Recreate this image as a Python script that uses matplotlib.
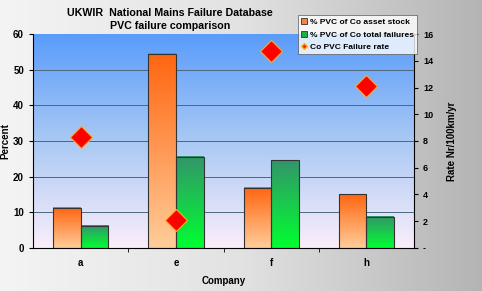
import numpy as np
import matplotlib.pyplot as plt
from matplotlib.colors import LinearSegmentedColormap
from matplotlib.lines import Line2D
from matplotlib.patches import Patch

plt.rcParams['font.family'] = ['Liberation Sans', 'DejaVu Sans']
plt.rcParams['font.weight'] = 'bold'

# Data
companies = ['a', 'e', 'f', 'h']
asset_stock = [11.3, 54.5, 16.9, 15.0]     # % PVC of Co asset stock
total_failures = [6.2, 25.6, 24.6, 8.7]    # % PVC of Co total failures
failure_rate = [8.3, 2.1, 14.7, 12.1]      # Co PVC Failure rate (right axis)

fig = plt.figure(figsize=(4.82, 2.91), dpi=100)

# figure background: grey gradient, lighter to the left
bg = fig.add_axes([0, 0, 1, 1], zorder=-10)
gx = np.linspace(0, 1, 256)
grey = LinearSegmentedColormap.from_list('grey', ['#f4f4f4', '#e2e2e2', '#b4b4b4'])
bg.imshow(gx[None, :], cmap=grey, aspect='auto', extent=[0, 1, 0, 1])
bg.axis('off')

ax = fig.add_axes([0.0685, 0.148, 0.7905, 0.735])
ax.set_xlim(-0.5, 3.5)
ax.set_ylim(0, 60)

# plot area: blue at the top fading to a pale pink
plot_cm = LinearSegmentedColormap.from_list('plot', ['#fbeefa', '#a9c9f4', '#5a9cfb'])
gy = np.linspace(0, 1, 256)[:, None]
ax.imshow(gy, cmap=plot_cm, origin='lower', aspect='auto',
          extent=[-0.5, 3.5, 0, 60], zorder=0)

for yv in range(10, 60, 10):
    ax.axhline(yv, color='#4c6682', lw=0.7, zorder=1)

orange_cm = LinearSegmentedColormap.from_list('org', ['#ffcd9a', '#ff6510'])
green_cm = LinearSegmentedColormap.from_list('grn', ['#00ff30', '#33956a'])
w = 0.29


def grad_bar(x0, h, cmap):
    ax.imshow(gy, cmap=cmap, origin='lower', aspect='auto',
              extent=[x0, x0 + w, 0, h], zorder=2)
    ax.add_patch(plt.Rectangle((x0, 0), w, h, fill=False, ec='#333333', lw=0.8, zorder=3))


for i in range(len(companies)):
    grad_bar(i - w, asset_stock[i], orange_cm)
    grad_bar(i, total_failures[i], green_cm)

ax.set_xlim(-0.5, 3.5)
ax.set_ylim(0, 60)
ax.set_xticks(range(len(companies)))
ax.set_xticklabels(companies, fontsize=7, fontweight='bold')
ax.set_xticks([0.5, 1.5, 2.5], minor=True)
ax.tick_params(axis='x', which='major', length=0, pad=7)
ax.tick_params(axis='x', which='minor', length=3)
ax.set_yticks(range(0, 61, 10))
ax.tick_params(axis='y', labelsize=7, length=3)
for lab in ax.get_yticklabels():
    lab.set_fontweight('bold')
ax.set_xlabel('Company', fontsize=7, fontweight='bold', labelpad=6)
ax.set_ylabel('Percent', fontsize=7, fontweight='bold', labelpad=2)
for side in ['top', 'right']:
    ax.spines[side].set_visible(False)

ax2 = ax.twinx()
ax2.set_ylim(0, 16)
ax2.plot(range(len(companies)), failure_rate, linestyle='none', marker='D',
         markersize=11, markerfacecolor='#ff0000', markeredgecolor='#ffb000',
         markeredgewidth=0.8, zorder=5)
ax2.set_yticks(range(0, 17, 2))
ax2.set_yticklabels(['-'] + [str(v) for v in range(2, 17, 2)], fontsize=6.5, fontweight='bold')
ax2.tick_params(axis='y', length=3)
ax2.set_ylabel('Rate Nr/100km/yr', fontsize=7, fontweight='bold', labelpad=10)
for side in ['top', 'left', 'bottom']:
    ax2.spines[side].set_visible(False)

handles = [
    Patch(facecolor='#ff8040', edgecolor='#333333', lw=0.6),
    Patch(facecolor='#22aa44', edgecolor='#333333', lw=0.6),
    Line2D([], [], linestyle='none', marker='D', markersize=3,
           markerfacecolor='#ff2000', markeredgecolor='#ffb000'),
]
labels = ['% PVC of Co asset stock', '% PVC of Co total failures', 'Co PVC Failure rate']
leg = fig.legend(handles, labels, loc='upper left', bbox_to_anchor=(298 / 482, 1 - 15 / 291),
                 fontsize=6, frameon=True, fancybox=False, edgecolor='#555555',
                 handlelength=0.7, handleheight=0.7, handletextpad=0.3,
                 borderpad=0.4, labelspacing=0.55, borderaxespad=0)
leg.get_frame().set_linewidth(0.6)
for t in leg.get_texts():
    t.set_fontweight('bold')

fig.text(170 / 482, 1 - 13 / 291, 'UKWIR  National Mains Failure Database',
         ha='center', va='center', fontsize=7.7, fontweight='bold')
fig.text(170 / 482, 1 - 26 / 291, 'PVC failure comparison',
         ha='center', va='center', fontsize=7.7, fontweight='bold')

fig.savefig('out.png', dpi=100)
